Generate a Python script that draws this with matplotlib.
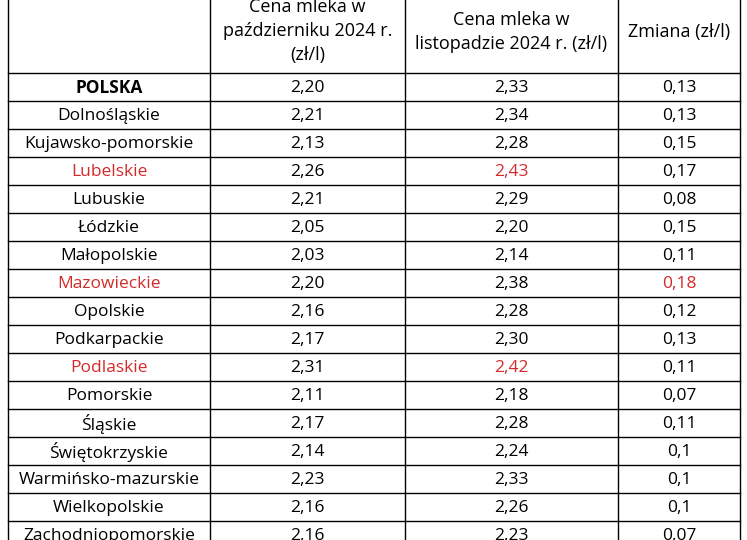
import matplotlib
matplotlib.use("Agg")
import matplotlib.pyplot as plt

regions = ["POLSKA","Dolnośląskie","Kujawsko-pomorskie","Lubelskie","Lubuskie","Łódzkie",
           "Małopolskie","Mazowieckie","Opolskie","Podkarpackie","Podlaskie","Pomorskie",
           "Śląskie","Świętokrzyskie","Warmińsko-mazurskie","Wielkopolskie","Zachodniopomorskie"]
oct_prices = ["2,20","2,21","2,13","2,26","2,21","2,05","2,03","2,20","2,16","2,17","2,31","2,11","2,17","2,14","2,23","2,16","2,16"]
nov_prices = ["2,33","2,34","2,28","2,43","2,29","2,20","2,14","2,38","2,28","2,30","2,42","2,18","2,28","2,24","2,33","2,26","2,23"]
change = ["0,13","0,13","0,15","0,17","0,08","0,15","0,11","0,18","0,12","0,13","0,11","0,07","0,11","0,1","0,1","0,1","0,07"]
headers = ["", "Cena mleka w\npaździerniku 2024 r.\n(zł/l)", "Cena mleka w\nlistopadzie 2024 r. (zł/l)", "Zmiana (zł/l)"]
red_names = {"Lubelskie","Mazowieckie","Podlaskie"}
red_nov = {"Lubelskie","Podlaskie"}
red_change = {"Mazowieckie"}

W, H = 747, 540
fig = plt.figure(figsize=(W/100, H/100), dpi=100)
ax = fig.add_axes([0, 0, 1, 1])
ax.set_xlim(0, W); ax.set_ylim(H, 0); ax.axis("off")

xs = [8, 210, 405, 618, 740]
head_top, head_bot, rh = -10, 73, 28
font = dict(family="Open Sans", fontsize=12.5)
red = "#d42a2a"

for x in xs:
    ax.plot([x, x], [head_top, H+20], color="black", lw=1)
ax.plot([xs[0], xs[-1]], [head_bot, head_bot], color="black", lw=1)
for i in range(len(regions)+1):
    y = head_bot + rh*(i+1)
    ax.plot([xs[0], xs[-1]], [y, y], color="black", lw=1)

for j, h in enumerate(headers):
    if h:
        ax.text((xs[j]+xs[j+1])/2, 31 if j == 1 else 32, h, ha="center", va="center",
                linespacing=1.45, family="Open Sans", fontsize=13)

for i, r in enumerate(regions):
    y = head_bot + rh*i + rh/2 + 1
    vals = [r, oct_prices[i], nov_prices[i], change[i]]
    cols = ["black"]*4
    if r in red_names: cols[0] = red
    if r in red_nov: cols[2] = red
    if r in red_change: cols[3] = red
    for j, v in enumerate(vals):
        ax.text((xs[j]+xs[j+1])/2, y, v, ha="center", va="center", color=cols[j],
                fontweight="bold" if (j == 0 and i == 0) else "normal", **font)

fig.savefig("out.png", dpi=100, facecolor="white")
